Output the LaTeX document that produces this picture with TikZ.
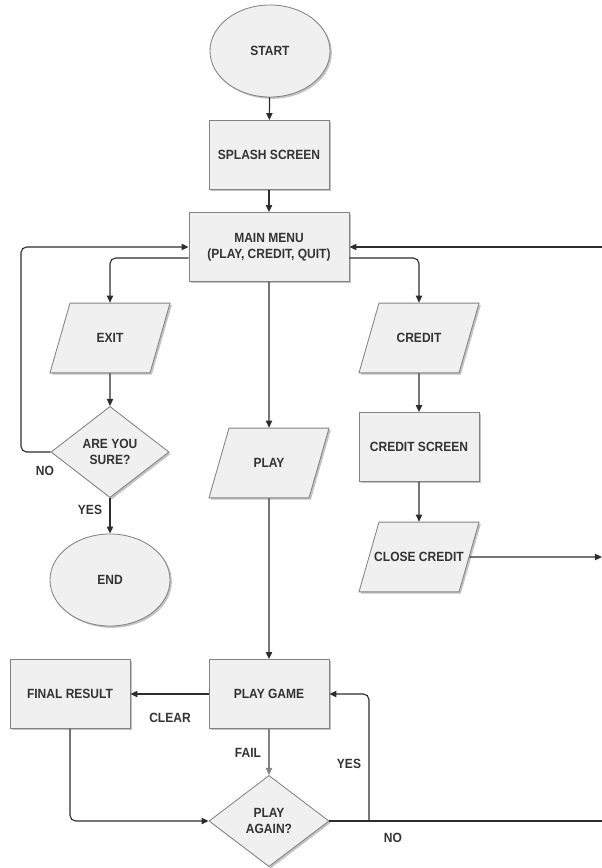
\documentclass[tikz,border=0pt]{standalone}
\usepackage{fontspec}
\newfontfamily\chartfont[FakeStretch=0.9]{Liberation Sans}
\usepackage{tikz}
\usetikzlibrary{arrows.meta,positioning,shapes.geometric,shadows}
\definecolor{fcFill}{RGB}{240,240,240}
\definecolor{fcLine}{RGB}{130,130,130}
\definecolor{fcText}{RGB}{51,51,51}
\definecolor{fcArrow}{RGB}{45,45,45}
\definecolor{fcShadow}{RGB}{195,195,195}

\begin{document}
\begin{tikzpicture}[x=0.025cm,y=-0.025cm,
  base/.style={draw=fcLine, fill=fcFill, line width=0.6pt, text=fcText,
    font=\chartfont\bfseries\fontsize{9.5}{11.5}\selectfont, align=center, inner sep=0pt,
    drop shadow={shadow xshift=1.3pt, shadow yshift=-1.3pt, fill=fcShadow, opacity=1}},
  terminal/.style={base, ellipse, minimum width=3cm, minimum height=2.3cm},
  process/.style={base, rectangle, minimum width=3cm, minimum height=1.725cm},
  io/.style={base, trapezium, trapezium left angle=74, trapezium right angle=106,
    trapezium stretches body=true, minimum width=3cm, inner xsep=-3.5pt,
    text height=28.2pt, text depth=21.4pt},
  decision/.style={base, diamond, minimum width=2.95cm, minimum height=2.28cm},
  flow/.style={draw=fcArrow, line width=0.8pt, rounded corners=4pt,
    -{Triangle[length=5pt,width=4.5pt]}},
  link/.style={flow, -},
  tag/.style={text=fcText, font=\chartfont\bfseries\fontsize{9.5}{11.5}\selectfont}]
\useasboundingbox (0,0) rectangle (602,868);

\node[terminal] (start) at (270,51) {START};
\node[process] (splash) at (269,155) {SPLASH SCREEN};
\node[process, minimum width=4cm] (menu) at (269,247) {MAIN MENU\\(PLAY, CREDIT, QUIT)};
\node[io] (exit) at (110,338) {EXIT};
\node[decision] (sure) at (110,452) {ARE YOU\\SURE?};
\node[terminal] (end) at (110,580) {END};
\node[io] (play) at (269,463) {PLAY};
\node[io] (credit) at (419,338) {CREDIT};
\node[process] (creditscr) at (419,447) {CREDIT SCREEN};
\node[io] (close) at (419,557) {CLOSE CREDIT};
\node[process] (game) at (269,694) {PLAY GAME};
\node[process] (final) at (70,694) {FINAL RESULT};
\node[decision, minimum width=3cm] (again) at (269,821) {PLAY\\AGAIN?};

\coordinate (loopL) at (21,247);
\coordinate (edgeIn) at (602,247);
\coordinate (edgeOut) at (602,557);
\coordinate (edgeNo) at (602,821);
\coordinate (yesUp) at (369,821);

\draw[flow] (start) -- (splash);
\draw[flow] (splash) -- (menu);
\draw[flow] (menu) -- (play);
\draw[flow] (play) -- (game);
\draw[flow] ([yshift=-0.275cm]menu.west) -| (exit);
\draw[flow] (exit) -- (sure);
\draw[flow] (sure.west) -| (loopL) -- (menu.west);
\draw[flow] (sure) -- (end);
\draw[flow] ([yshift=-0.275cm]menu.east) -| (credit);
\draw[flow] (credit) -- (creditscr);
\draw[flow] (creditscr) -- (close);
\draw[flow] (close.east) -- (edgeOut);
\draw[flow] (edgeIn) -- (menu.east);
\draw[flow] (game) -- (final);
\draw[flow, draw=fcLine] (game) -- (again);
\draw[flow] (final.south) |- (again.west);
\draw[link] (again.east) -- (edgeNo);
\draw[flow] (yesUp) |- (game.east);

\node[tag] (noSure) at (45,471) {NO};
\node[tag] (yesSure) at (90,510) {YES};
\node[tag] (clear) at (170,718) {CLEAR};
\node[tag] (fail) at (248,753) {FAIL};
\node[tag] (yesAgain) at (349,764) {YES};
\node[tag] (noAgain) at (393,838) {NO};
\end{tikzpicture}
\end{document}
